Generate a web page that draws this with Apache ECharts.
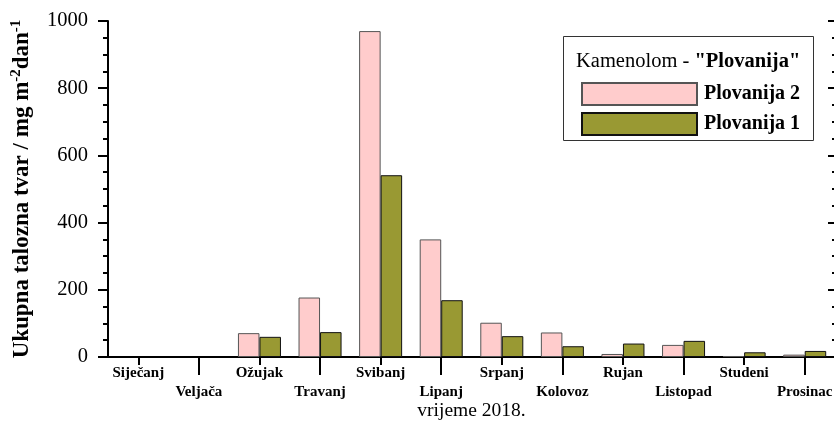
<!DOCTYPE html>
<html><head><meta charset="utf-8">
<script src="https://cdn.jsdelivr.net/npm/echarts@6/dist/echarts.min.js"></script>
<style>html,body{margin:0;padding:0;background:#fff}#c{width:834px;height:424px}</style>
</head><body><div id="c"></div>
<script>
const months = ['Siječanj','Veljača','Ožujak','Travanj','Svibanj','Lipanj','Srpanj','Kolovoz','Rujan','Listopad','Studeni','Prosinac'];
const plovanija2 = [null, null, 71, 177, 970, 350, 102, 73, 9, 36, 3, 7];
const plovanija1 = [null, null, 60, 74, 541, 169, 62, 32, 40, 48, 14, 18];
const yTicks = [0, 200, 400, 600, 800, 1000];

const serif = 'Liberation Serif';
const chart = echarts.init(document.getElementById('c'), null, {renderer:'canvas'});
const axisLine = {show:true, lineStyle:{color:'#000', width:2}};
chart.setOption({
  animation:false,
  backgroundColor:'#fff',
  grid:{left:108, right:-1, top:21, bottom:67, containLabel:false, outerBoundsMode:'none'},
  legend:{
    orient:'vertical', left:576, top:77, itemWidth:115, itemHeight:22, itemGap:6, icon:'rect',
    textStyle:{fontFamily:serif, fontWeight:'bold', fontSize:20, color:'#000', padding:[0,0,0,2]},
    data:['Plovanija 2','Plovanija 1']
  },
  graphic:[
    {type:'rect', shape:{x:563.5, y:36.5, width:250, height:104}, style:{fill:'#fff', stroke:'#333', lineWidth:1}, z:0},
    {type:'text', x:576, y:62, style:{
      text:'{n|Kamenolom - }{b|"Plovanija"}', verticalAlign:'middle',
      rich:{n:{fontFamily:serif, fontSize:20.5, fill:'#000'}, b:{fontFamily:serif, fontSize:20.5, fontWeight:'bold', fill:'#000'}}
    }, z:10}
  ],
  xAxis:[{
    type:'category', data:months, position:'bottom',
    axisLine:axisLine,
    axisTick:{show:true, alignWithLabel:true, inside:false, length:18, lineStyle:{color:'#000', width:2},
      interval:function(i){return i%2===1;}},
    axisLabel:{interval:0, margin:7, fontFamily:serif, fontWeight:'bold', fontSize:15, color:'#000', lineHeight:19,
      formatter:function(v,i){return i%2===1 ? '\n'+v : v;}},
    name:'vrijeme 2018.', nameLocation:'middle', nameGap:44, nameMoveOverlap:false,
    nameTextStyle:{fontFamily:serif, fontSize:19.5, color:'#000'},
    splitLine:{show:false}
  },{
    type:'category', data:months, position:'top',
    axisLine:axisLine,
    axisTick:{show:true, alignWithLabel:true, inside:true, length:8, interval:0, lineStyle:{color:'#000', width:2}},
    axisLabel:{show:false}, splitLine:{show:false}
  }],
  yAxis:[{
    type:'value', min:0, max:1000, interval:200, position:'left',
    axisLine:axisLine,
    axisTick:{show:true, inside:false, length:10, lineStyle:{color:'#000', width:2}},
    minorTick:{show:true, splitNumber:4, length:5, lineStyle:{color:'#000', width:2}},
    axisLabel:{margin:20, fontFamily:serif, fontSize:20.5, color:'#000',
      formatter:function(v){return yTicks.indexOf(v)>=0 ? String(v) : '';}},
    splitLine:{show:false},
    name:'Ukupna talozna tvar / mg m{s|-2}dan{s|-1}', nameLocation:'middle', nameGap:72, nameRotate:90, nameMoveOverlap:false,
    nameTextStyle:{fontFamily:serif, fontSize:23, fontWeight:'bold', color:'#000',
      rich:{s:{fontFamily:serif, fontSize:15, fontWeight:'bold', color:'#000', verticalAlign:'top', padding:[0,0,12,0]}}}
  },{
    type:'value', min:0, max:1000, interval:200, position:'right',
    axisLine:axisLine,
    axisTick:{show:true, inside:true, length:7, lineStyle:{color:'#000', width:2}},
    minorTick:{show:true, splitNumber:4, length:3, lineStyle:{color:'#000', width:2}},
    axisLabel:{show:false}, splitLine:{show:false}
  }],
  series:[
    {name:'Plovanija 2', type:'bar', data:plovanija2, barGap:'0%', barCategoryGap:'29%',
      itemStyle:{color:'#FFCCCC', borderColor:'#555', borderWidth:1}},
    {name:'Plovanija 1', type:'bar', data:plovanija1, barGap:'0%', barCategoryGap:'29%',
      itemStyle:{color:'#999933', borderColor:'#111', borderWidth:1}}
  ]
});
</script></body></html>
